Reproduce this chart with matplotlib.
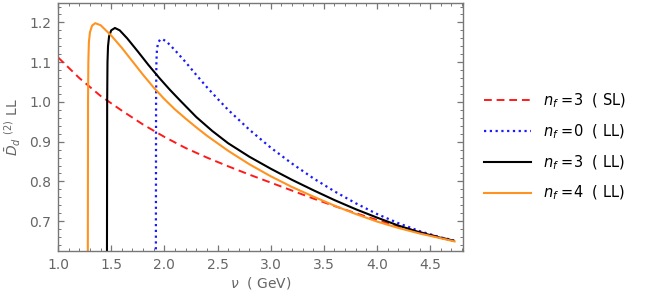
import matplotlib
matplotlib.use("Agg")
from matplotlib import pyplot as plt
from matplotlib.ticker import MultipleLocator

# values
nu_sl3 = [1.0, 1.2, 1.4, 1.6, 1.8, 2.0, 2.2, 2.4, 2.6, 2.8, 3.0, 3.2, 3.4,
          3.6, 3.8, 4.0, 4.2, 4.4, 4.6, 4.73]
d_sl3 = [1.112, 1.06, 1.015, 0.978, 0.943, 0.912, 0.884, 0.86, 0.838, 0.817,
         0.797, 0.777, 0.757, 0.738, 0.72, 0.703, 0.687, 0.673, 0.659, 0.65]

nu_ll0 = [1.92, 1.922, 1.925, 1.93, 1.94, 1.96, 1.98, 2.02, 2.1, 2.2, 2.3,
          2.4, 2.5, 2.6, 2.8, 3.0, 3.2, 3.4, 3.6, 3.8, 4.0, 4.2, 4.4, 4.6,
          4.72]
d_ll0 = [0.60, 1.0, 1.10, 1.13, 1.148, 1.157, 1.158, 1.152, 1.13, 1.10, 1.068,
         1.037, 1.008, 0.98, 0.93, 0.885, 0.845, 0.808, 0.775, 0.745, 0.718,
         0.695, 0.675, 0.659, 0.652]

nu_ll3 = [1.46, 1.462, 1.465, 1.47, 1.48, 1.50, 1.535, 1.58, 1.65, 1.75, 1.85,
          1.95, 2.05, 2.15, 2.3, 2.45, 2.6, 2.8, 3.0, 3.2, 3.4, 3.6, 3.8, 4.0,
          4.2, 4.4, 4.6, 4.72]
d_ll3 = [0.60, 1.0, 1.10, 1.14, 1.165, 1.18, 1.186, 1.18, 1.16, 1.127, 1.093,
         1.061, 1.031, 1.003, 0.962, 0.927, 0.896, 0.862, 0.832, 0.804, 0.778,
         0.753, 0.73, 0.709, 0.689, 0.672, 0.658, 0.651]

nu_ll4 = [1.28, 1.282, 1.285, 1.29, 1.30, 1.32, 1.35, 1.40, 1.5, 1.6, 1.7,
          1.8, 1.9, 2.0, 2.1, 2.2, 2.3, 2.4, 2.6, 2.8, 3.0, 3.2, 3.4, 3.6,
          3.8, 4.0, 4.2, 4.4, 4.6, 4.73]
d_ll4 = [0.60, 1.0, 1.10, 1.15, 1.175, 1.192, 1.198, 1.193, 1.167, 1.136,
         1.102, 1.068, 1.036, 1.007, 0.981, 0.958, 0.936, 0.915, 0.877, 0.843,
         0.813, 0.786, 0.762, 0.739, 0.718, 0.699, 0.683, 0.669, 0.657, 0.649]

labels = ["$n_f$ =3  ( SL)", "$n_f$ =0  ( LL)", "$n_f$ =3  ( LL)",
          "$n_f$ =4  ( LL)"]

fig = plt.figure(figsize=(6.45, 3.02), dpi=100)
ax = fig.add_axes([0.090, 0.169, 0.628, 0.820])

ax.plot(nu_sl3, d_sl3, color="#ff1a1a", lw=1.4, ls=(0, (4, 2.5)),
        label=labels[0])
ax.plot(nu_ll0, d_ll0, color="#1a1aff", lw=1.6, ls=(0, (1, 1.6)),
        label=labels[1])
ax.plot(nu_ll3, d_ll3, color="black", lw=1.5, label=labels[2])
ax.plot(nu_ll4, d_ll4, color="#ff9320", lw=1.5, label=labels[3])

ax.set_xlim(1.0, 4.81)
ax.set_ylim(0.625, 1.248)
ax.xaxis.set_major_locator(MultipleLocator(0.5))
ax.xaxis.set_minor_locator(MultipleLocator(0.1))
ax.yaxis.set_major_locator(MultipleLocator(0.1))
ax.yaxis.set_minor_locator(MultipleLocator(0.02))
ax.tick_params(which="both", direction="in", top=True, right=True,
               color="#777777", labelcolor="#666666", labelsize=10)
ax.tick_params(which="major", length=4.5, width=0.9, pad=5)
ax.tick_params(which="minor", length=2.5, width=0.7)
for sp in ax.spines.values():
    sp.set_color("#777777")
    sp.set_linewidth(1.0)

ax.set_xlabel(r"$\nu$  ( GeV)", color="#666666", fontsize=10, labelpad=2)
ax.set_ylabel(r"$\bar{D}_d$ $^{(2)}$ LL", color="#666666", fontsize=10,
              labelpad=4)

ax.legend(loc="center left", bbox_to_anchor=(1.02, 0.42), frameon=False,
          fontsize=10.5, handlelength=3.2, handletextpad=0.8,
          labelspacing=0.85)

fig.savefig("out.png", dpi=100)
